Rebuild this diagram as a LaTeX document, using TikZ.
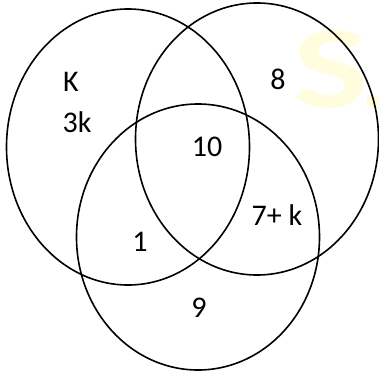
\documentclass[tikz,border=0pt]{standalone}
\usepackage{fontspec}
\setmainfont{Carlito}
\usepackage{tikz}
\usetikzlibrary{shapes.geometric}

\begin{document}
\begin{tikzpicture}[
    x=1pt, y=-1pt,
    every node/.style={font=\fontsize{30}{34}\selectfont},
    setring/.style={draw, ellipse, line width=1.6pt, inner sep=0pt},
    lbl/.style={inner sep=0pt, anchor=center},
]
\useasboundingbox (0,0) rectangle (379,372);

% Watermark
\node[font=\fontsize{118}{120}\selectfont\bfseries, text=yellow!13, anchor=base west, inner sep=0pt, xscale=1.35] (mark) at (293,107) {S};
\fill[yellow!13] (367,96) rectangle (379,107);

% Sets
\node[setring, minimum width=243pt, minimum height=276pt] (setA) at (128,147) {};
\node[setring, minimum width=243pt, minimum height=272pt] (setB) at (257,139) {};
\node[setring, minimum width=243pt, minimum height=266pt] (setC) at (198,237) {};

% Regions
\node[lbl] (onlyA1) at (71,82) {K};
\node[lbl] (onlyA2) at (77,122) {3k};
\node[lbl] (onlyB) at (278,79) {8};
\node[lbl] (allABC) at (207,147) {10};
\node[lbl] (onlyBC) at (277,215) {7+ k};
\node[lbl] (onlyAC) at (140,242) {1};
\node[lbl] (onlyC) at (199,308) {9};

\end{tikzpicture}
\end{document}
